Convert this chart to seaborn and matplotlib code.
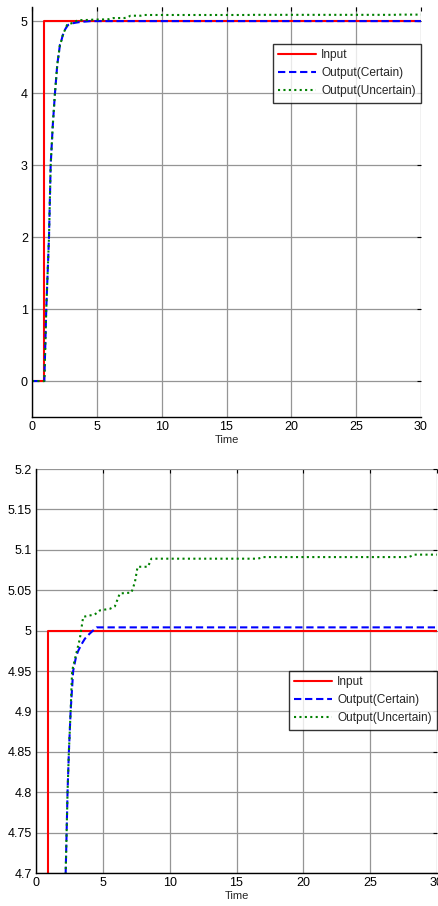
import matplotlib
matplotlib.use("Agg")
import matplotlib.pyplot as plt
import seaborn as sns
import numpy as np

# ---- data ----
t_input = [0, 0.9, 0.9, 30]
y_input = [0, 0, 5, 5]

t_certain = [0, 0.95, 1.1, 1.31, 1.44, 1.6, 1.77, 1.95, 2.16, 2.22, 2.36, 2.46,
             2.59, 2.78, 3.0, 3.16, 3.4, 3.66, 4.0, 4.53, 30]
y_certain = [0, 0, 1.0, 2.0, 3.0, 3.55, 4.0, 4.4, 4.68, 4.7, 4.8, 4.85,
             4.9, 4.95, 4.968, 4.975, 4.983, 4.99, 4.996, 5.004, 5.004]

t_uncertain = [0, 0.95, 1.1, 1.31, 1.44, 1.6, 1.77, 1.95, 2.16, 2.22, 2.36, 2.46,
               2.59, 2.7, 2.99, 3.28, 3.53, 4.4, 4.78, 5.53, 5.9, 6.27, 7.14,
               7.4, 7.6, 8.38, 8.63, 16.6, 17.0, 27.9, 28.3, 30]
y_uncertain = [0, 0, 1.0, 2.0, 3.0, 3.55, 4.0, 4.4, 4.68, 4.7, 4.8, 4.85,
               4.9, 4.95, 4.97, 4.99, 5.017, 5.02, 5.025, 5.027, 5.03, 5.046, 5.047,
               5.06, 5.079, 5.079, 5.089, 5.089, 5.091, 5.091, 5.094, 5.094]

labels = ["Input", "Output(Certain)", "Output(Uncertain)"]
xticks = [0, 5, 10, 15, 20, 25, 30]
yticks_top = [0, 1, 2, 3, 4, 5]
yticks_bot = [4.7, 4.75, 4.8, 4.85, 4.9, 4.95, 5.0, 5.05, 5.1, 5.15, 5.2]

sns.set_theme(style="white")
plt.rcParams['font.family'] = ['Liberation Sans', 'DejaVu Sans']

fig = plt.figure(figsize=(4.38, 9.06), dpi=100)
ax1 = fig.add_axes([32/438, 1-417/906, (421-32)/438, (417-7)/906])
ax2 = fig.add_axes([36/438, 1-873/906, (437-36)/438, (873-469)/906])

def draw(ax, ylim, yticks, legend_y):
    sns.lineplot(x=t_input, y=y_input, ax=ax, color=(1, 0, 0), lw=1.5,
                 sort=False, estimator=None, label=labels[0])
    sns.lineplot(x=t_certain, y=y_certain, ax=ax, color=(0, 0, 1), lw=1.5,
                 linestyle=(0, (3.5, 1.8)), sort=False, estimator=None, label=labels[1])
    sns.lineplot(x=t_uncertain, y=y_uncertain, ax=ax, color=(0, 0.5, 0), lw=1.5,
                 linestyle=(0, (1, 1.6)), sort=False, estimator=None, label=labels[2])
    ax.set_xlim(0, 30)
    ax.set_ylim(*ylim)
    ax.set_xticks(xticks)
    ax.set_yticks(yticks)
    ax.set_yticklabels(["%g" % v for v in yticks])
    ax.grid(True, color="#959595", lw=0.9)
    ax.set_axisbelow(True)
    for s in ["top", "right"]:
        ax.spines[s].set_visible(False)
    for s in ["left", "bottom"]:
        ax.spines[s].set_color("black")
        ax.spines[s].set_linewidth(1.0)
    ax.tick_params(direction="in", length=3, width=0.8, top=True, right=True,
                   labelsize=9, colors="black", pad=3)
    ax.set_xlabel("Time", fontsize=8, labelpad=1)
    ax.set_ylabel("")
    leg = ax.legend(loc="upper right", bbox_to_anchor=(1.0, legend_y), fontsize=8.6,
                    frameon=True, fancybox=False, edgecolor="black",
                    borderpad=0.45, labelspacing=0.5, handlelength=3.2,
                    handletextpad=0.4, borderaxespad=0)
    leg.get_frame().set_linewidth(1.0)

draw(ax1, (-0.5, 5.2), yticks_top, 0.91)
draw(ax2, (4.7, 5.2), yticks_bot, 0.5)

fig.savefig("out.png", dpi=100)
